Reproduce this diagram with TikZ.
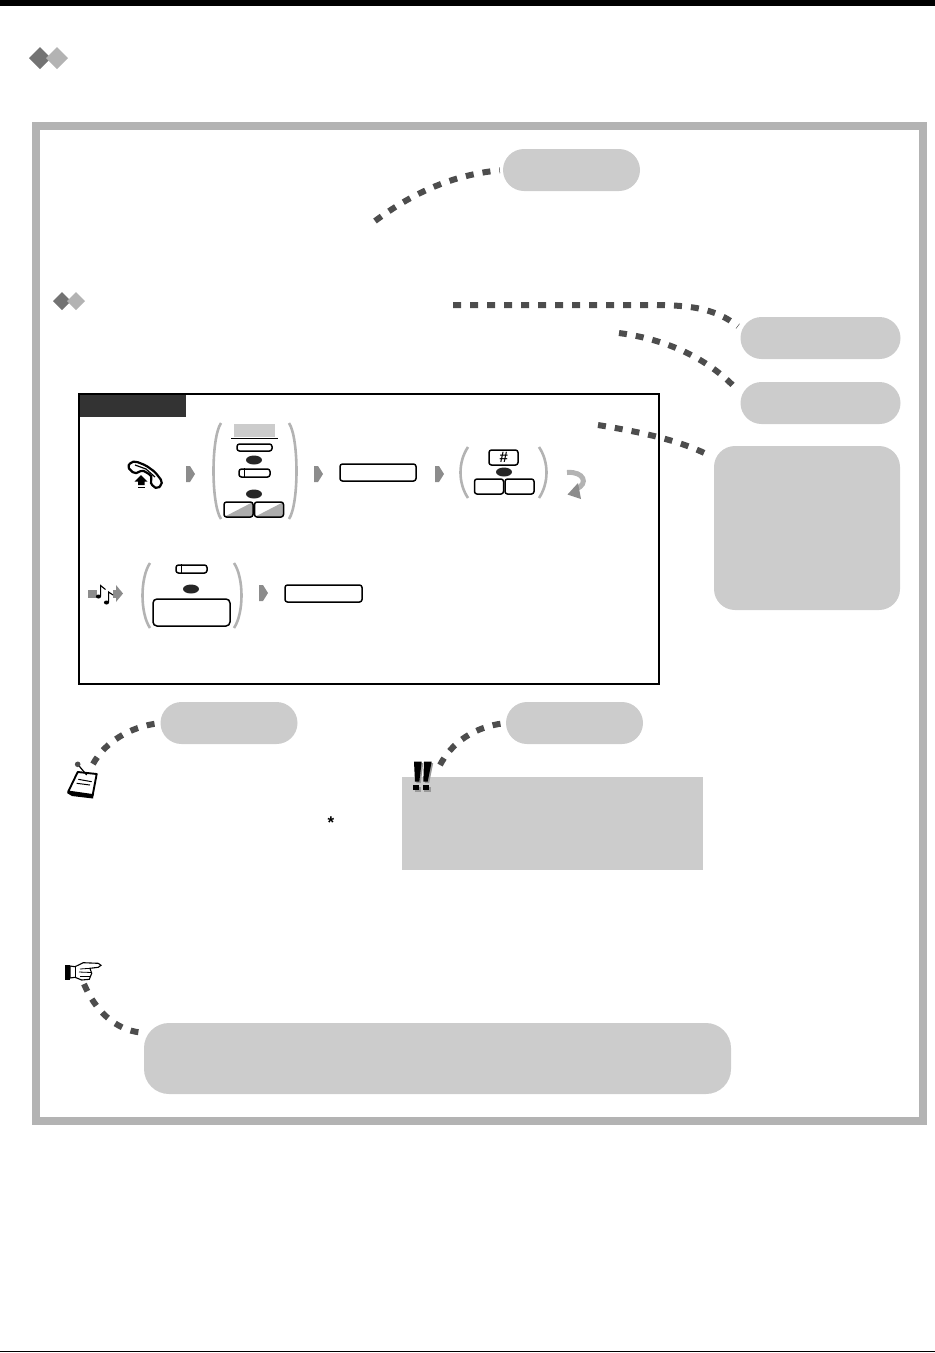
\documentclass[tikz,border=0pt]{standalone}
\usepackage{fontspec}
\setmainfont{Liberation Sans}
\usepackage{xcolor}
\usetikzlibrary{arrows.meta, positioning, shapes.geometric, calc}
\definecolor{pillgray}{HTML}{CCCCCC}
\definecolor{framegray}{HTML}{B3B3B3}
\definecolor{dotgray}{HTML}{4D4D4D}
\definecolor{markgray}{HTML}{8C8C8C}
\tikzset{
  pill/.style={fill=pillgray, inner sep=0pt, rounded corners=21pt, minimum width=137pt, minimum height=42pt},
  keybox/.style={draw, fill=white, line width=1.5pt, rounded corners=2.5pt, inner sep=0pt},
  slantkey/.style={keybox, path picture={\fill[pillgray!85!black] (path picture bounding box.south west) -- (path picture bounding box.north east) -- (path picture bounding box.south east) -- cycle;}},
  ovalkey/.style={ellipse, fill=black!85, inner sep=0pt, minimum width=16pt, minimum height=9pt},
  callout/.style={dotgray, line width=6pt, dash pattern=on 8pt off 9pt, shorten >=3pt},
  parenline/.style={framegray, line width=2.6pt},
}
\begin{document}
\begin{tikzpicture}[x=1pt, y=-1pt]
  \useasboundingbox (0,0) rectangle (935,1353);

  % Page rules and outer frame
  \fill[black] (0,0) rectangle (935,6);
  \fill[black] (0,1350.5) rectangle (935,1352);
  \draw[framegray, line width=8pt] (36,126) rectangle (922.5,1121);

  % Diamond marks
  \fill[black!55] (40,47) -- (51,58) -- (40,69) -- (29,58) -- cycle;
  \fill[framegray] (57,47) -- (68,58) -- (57,69) -- (46,58) -- cycle;
  \fill[black!55] (62,292) -- (71,301) -- (62,310) -- (53,301) -- cycle;
  \fill[framegray] (76,292) -- (85,301) -- (76,310) -- (67,301) -- cycle;

  % Callout shapes
  \node[pill] (pillA) at (571.5,170) {};
  \node[pill, minimum width=160pt] (pillB) at (820.5,338) {};
  \node[pill, minimum width=160pt] (pillC) at (820.5,403) {};
  \node[pill, minimum width=186pt, minimum height=164pt] (pillD) at (807,528) {};
  \node[pill] (pillE) at (229,723) {};
  \node[pill] (pillF) at (574.5,723) {};
  \node[pill, minimum width=587pt, minimum height=71pt, rounded corners=25pt] (pillG) at (437.5,1058.5) {};
  \node[fill=pillgray, inner sep=0pt, minimum width=301pt, minimum height=93pt] (noteBox) at (552.5,823.5) {};

  % Free ends of the callouts
  \coordinate (endA) at (375,221);
  \coordinate (endB) at (453,305);
  \coordinate (endC) at (619,333);
  \coordinate (endD) at (598,425);
  \coordinate (endE) at (93,764);
  \coordinate (endF) at (440,765);
  \coordinate (endG) at (84,984);

  \draw[callout] (endA) .. controls (410,195) and (450,175) .. (pillA.west);
  \draw[callout] (endB) -- (650,305) .. controls (690,305) and (715,308) .. (pillB.173);
  \draw[callout] (endC) .. controls (670,340) and (710,360) .. (pillC.173);
  \draw[callout] (endD) .. controls (640,432) and (680,440) .. (pillD.143);
  \draw[callout] (endE) .. controls (105,742) and (130,727) .. (pillE.west);
  \draw[callout] (endF) .. controls (452,742) and (475,727) .. (pillF.west);
  \draw[callout] (endG) .. controls (95,1010) and (115,1030) .. (pillG.175);

  % Procedure box
  \node[draw, line width=1.6pt, inner sep=0pt, minimum width=580pt, minimum height=290pt] (procBox) at (369,539) {};
  \node[fill=black!80, inner sep=0pt, minimum width=106pt, minimum height=22pt] (procHead) at (133,406) {};

  % Handset
  \draw[black, line width=2.2pt, fill=white, rounded corners=2pt, line join=round]
    (127.5,467) -- (131,462) -- (136,461.5) -- (146,465.5) -- (155,472) -- (162,481) -- (161.5,485) -- (157.5,488.5)
    -- (153.5,487) -- (150,481.5) -- (152.5,478) -- (150,474.5) -- (142,470) -- (138.5,472.5) -- (134,473.5) -- cycle;
  \draw[black, line width=1.2pt] (135,465) -- (146,469) -- (155,477);
  \fill[black] (141,475) -- (147.5,481.7) -- (144.5,481.7) -- (144.5,485) -- (138,485) -- (138,481.7) -- (134.5,481.7) -- cycle;
  \fill[black] (137.5,486.5) rectangle (145,488);

  % Small step arrows
  \foreach \x/\y in {186/474, 314/474, 435/474, 259/593}
    \fill[markgray] (\x,\y-8) -- (\x+4,\y-8) -- (\x+9,\y) -- (\x+4,\y+8) -- (\x,\y+8) -- cycle;

  % Brackets
  \foreach \xl/\xr/\yt/\yb in {221/289/423/519, 468/539/447/498, 150/234/563/628} {
    \draw[parenline] (\xl,\yt) .. controls (\xl-10,\yt+15) and (\xl-10,\yb-15) .. (\xl,\yb);
    \draw[parenline] (\xr,\yt) .. controls (\xr+10,\yt+15) and (\xr+10,\yb-15) .. (\xr,\yb);
  }

  % First row keys
  \fill[pillgray] (234,424) rectangle (275,437);
  \draw[black, line width=0.7pt] (231,438) -- (278,438);
  \node[keybox, minimum width=35pt, minimum height=7pt] (keyA) at (254.5,447.5) {};
  \node[ovalkey] (orA) at (254,460) {};
  \node[keybox, minimum width=31pt, minimum height=8pt] (keyB) at (254.5,473) {};
  \draw[line width=0.8pt] ($(keyB.north west)+(6,0)$) -- ($(keyB.south west)+(6,0)$);
  \node[ovalkey] (orB) at (254,494) {};
  \node[slantkey, minimum width=29pt, minimum height=15pt] (keyC) at (238.5,509.5) {};
  \node[slantkey, minimum width=29pt, minimum height=15pt] (keyD) at (269,509.5) {};
  \node[keybox, minimum width=76pt, minimum height=17pt] (entryA) at (378,472.5) {};
  \node[keybox, minimum width=29pt, minimum height=15pt, font=\fontsize{15pt}{15pt}\selectfont\bfseries\itshape] (keyHash) at (503.5,457.5) {\#};
  \node[ovalkey] (orC) at (504,472) {};
  \node[keybox, minimum width=29pt, minimum height=15pt] (keyE) at (489,486.5) {};
  \node[keybox, minimum width=29pt, minimum height=15pt] (keyF) at (519.5,486.5) {};

  % Turn back arrow
  \draw[framegray, line width=5pt] (567,472.5) .. controls (584,471) and (589,484) .. (576,489);
  \fill[markgray] (567.5,494.5) -- (578,483) -- (581,499) -- cycle;

  % Tone arrow with notes
  \fill[markgray] (88,589.5) rectangle (118,598);
  \fill[markgray] (116,585) -- (123,593.5) -- (116,602) -- cycle;
  \fill[white] (97,585) rectangle (113,606);
  \fill[black] (98.5,596.5) ellipse (2.6pt and 2pt);
  \draw[black, line width=1.1pt] (100.6,596) -- (100.6,585.5) -- (105.5,589.5);
  \fill[black] (106.5,602.5) ellipse (2.6pt and 2pt);
  \draw[black, line width=1.1pt] (108.6,602) -- (108.6,592) -- (113,595);

  % Second row keys
  \node[keybox, minimum width=31pt, minimum height=8pt] (keyG) at (191.5,569) {};
  \draw[line width=0.8pt] ($(keyG.north west)+(6,0)$) -- ($(keyG.south west)+(6,0)$);
  \node[ovalkey] (orD) at (191,589) {};
  \node[keybox, minimum width=77pt, minimum height=27pt, rounded corners=4pt] (entryB) at (191.5,612.5) {};
  \node[keybox, minimum width=77pt, minimum height=17pt] (entryC) at (323.5,593.5) {};

  % Pad icon
  \fill[black] (67,793) -- (70,789) -- (94,793) -- (93,798.5) -- (72,796) -- cycle;
  \draw[black, line width=1.9pt, fill=white, line join=round] (77.7,772) -- (96.7,774) -- (92.7,795) -- (68.3,791.5) -- cycle;
  \draw[black, line width=1pt] (78.3,779.3) -- (91.7,781.7);
  \draw[black, line width=1pt] (76.7,783.3) -- (90,785);
  \draw[black, line width=1.2pt] (77.7,764.3) -- (86.7,775);
  \fill[black!70] (77.7,764.3) circle (2.8pt);

  % Warning marks
  \foreach \dx/\col in {1.5/black!40, 0/black} {
    \fill[\col] (414+\dx,761.7+\dx) -- (421.7+\dx,761.7+\dx) -- (419.3+\dx,781.7+\dx) -- (415+\dx,781.7+\dx) -- cycle;
    \fill[\col] (413.3+\dx,785+\dx) rectangle (419.3+\dx,790+\dx);
    \fill[\col] (424+\dx,761.7+\dx) -- (431.7+\dx,761.7+\dx) -- (427.7+\dx,781.7+\dx) -- (423.3+\dx,781.7+\dx) -- cycle;
    \fill[\col] (422.7+\dx,785+\dx) rectangle (429.3+\dx,790+\dx);
  }
  \node[inner sep=0pt, font=\fontsize{17pt}{17pt}\selectfont\bfseries] (star) at (331,822.5) {*};

  % Pointing hand
  \fill[black] (65,964.5) rectangle (70,979.5);
  \draw[black, line width=1.1pt, fill=white] (70,966) -- (75,966.7) -- (83.3,962.7) -- (98.3,963.3) -- (101,965.3) -- (98.3,967.3) -- (90,968.3) -- (91.7,973.3) -- (89.3,979.3) -- (81.7,980) -- (75,977.3) -- (70,978) -- cycle;
  \draw[black, line width=0.8pt] (80,969) -- (90,968.3);
  \draw[black, line width=0.8pt] (79,972) -- (91.5,972.5);
  \draw[black, line width=0.8pt] (80,976) -- (90.5,976);
  \draw[black, line width=0.8pt] (75,966.7) -- (75,977.3);
\end{tikzpicture}
\end{document}
